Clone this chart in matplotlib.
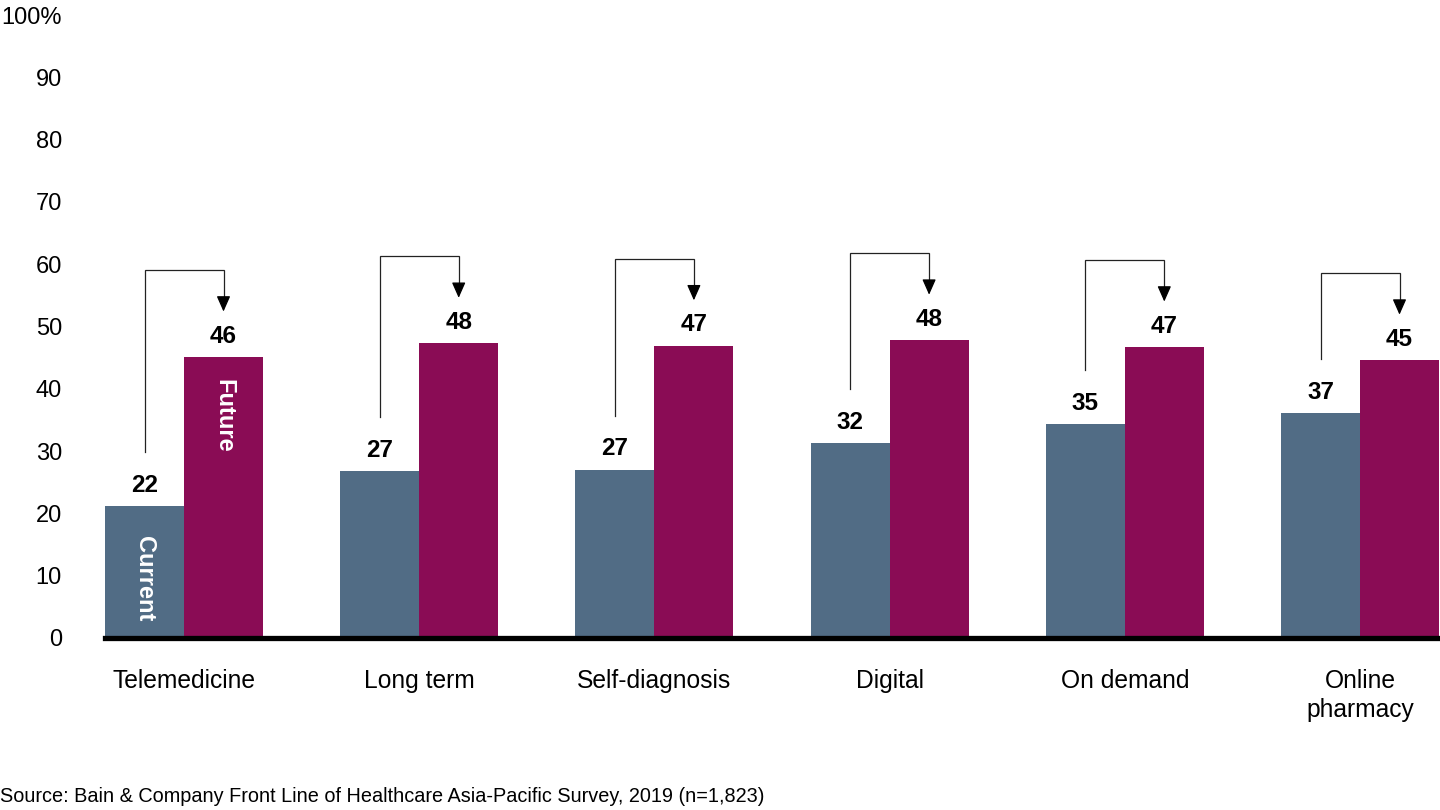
import matplotlib
matplotlib.use("Agg")
import matplotlib.pyplot as plt
import numpy as np

categories = ["Telemedicine", "Long term", "Self-diagnosis", "Digital", "On demand", "Online\npharmacy"]
current_values = [21.2, 26.8, 27.0, 31.3, 34.3, 36.1]
future_values = [45.1, 47.3, 46.9, 47.8, 46.7, 44.6]
current_labels = ["22", "27", "27", "32", "35", "37"]
future_labels = ["46", "48", "47", "48", "47", "45"]
yticks = [0, 10, 20, 30, 40, 50, 60, 70, 80, 90, 100]
ytick_labels = ["0", "10", "20", "30", "40", "50", "60", "70", "80", "90", "100%"]
source_text = "Source: Bain & Company Front Line of Healthcare Asia-Pacific Survey, 2019 (n=1,823)"

plt.rcParams['font.family'] = ['Liberation Sans', 'DejaVu Sans']

c_cur = "#516c85"
c_fut = "#8a0c55"

fig = plt.figure(figsize=(14.4, 8.1), dpi=100)
ax = fig.add_axes([105/1440, (810-638)/810, 1 - 105/1440, (638-15)/810])

x = np.arange(len(categories))
w = 79/235.2
ax.bar(x - w/2, current_values, width=w, color=c_cur)
ax.bar(x + w/2, future_values, width=w, color=c_fut)

ax.set_xlim(-w, (1440-184)/235.2)
ax.set_ylim(0, 100)
for s in ax.spines.values():
    s.set_visible(False)
ax.axhline(0, color="black", lw=3.8, clip_on=False, zorder=5)

ax.set_yticks(yticks)
ax.set_yticklabels(ytick_labels, fontsize=17)
ax.set_xticks(x)
ax.set_xticklabels(categories, fontsize=17.7, linespacing=1.3)
ax.tick_params(axis='y', length=0, pad=31)
ax.tick_params(axis='x', length=0, pad=22)

for i in range(len(categories)):
    xc = i - w/2
    xf = i + w/2
    ax.text(xc, current_values[i] + 1.5, current_labels[i], ha='center', va='bottom',
            fontsize=17.5, fontweight='bold', color='black')
    ax.text(xf, future_values[i] + 1.5, future_labels[i], ha='center', va='bottom',
            fontsize=17.5, fontweight='bold', color='black')
    y0 = current_values[i] + 8.7
    yb = future_values[i] + 14.0
    yt = future_values[i] + 7.3
    ax.plot([xc, xc, xf, xf], [y0, yb, yb, yt + 1.9], color="#222222", lw=0.9,
            solid_joinstyle='miter', clip_on=False)
    ax.annotate("", xy=(xf, yt), xytext=(xf, yt + 2.0),
                arrowprops=dict(arrowstyle="-|>,head_length=0.95,head_width=0.42",
                                color="black", lw=0.9, shrinkA=0, shrinkB=0))

ax.text(0 - w/2, 9.5, "Current", rotation=270, ha='center', va='center',
        color='white', fontsize=17, fontweight='bold')
ax.text(0 + w/2, 35.6, "Future", rotation=270, ha='center', va='center',
        color='white', fontsize=17, fontweight='bold')

fig.text(0.0, 1 - 797/810, source_text, ha='left', va='center', fontsize=14.3)

fig.savefig("out.png", dpi=100)
